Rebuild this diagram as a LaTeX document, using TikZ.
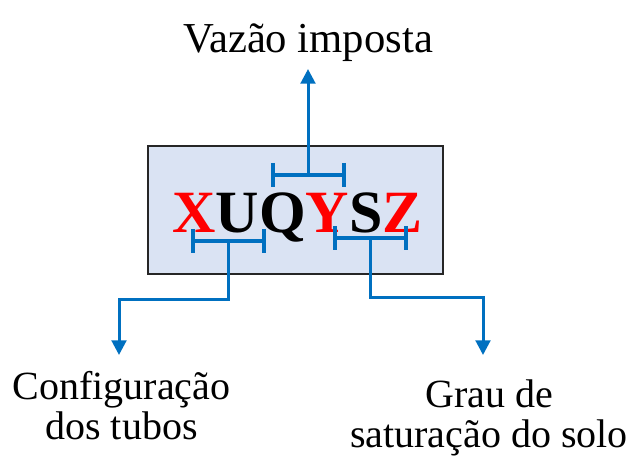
\documentclass[tikz,border=0pt]{standalone}
\usepackage{fontspec}
\setmainfont{Liberation Serif}
\usetikzlibrary{arrows.meta,positioning}
\definecolor{linkblue}{HTML}{0070C0}
\definecolor{boxfill}{HTML}{DAE3F3}
\begin{document}
\begin{tikzpicture}[x=0.75pt,y=-0.75pt,
    codebox/.style={draw=black!85,line width=1.1pt,fill=boxfill,minimum width=221.25pt,minimum height=96pt,inner sep=0pt},
    brace/.style={linkblue,line width=3pt},
    link/.style={linkblue,line width=2.25pt,-{Triangle[width=11pt,length=11pt]}},
    label/.style={inner sep=0pt,align=center,font=\fontsize{30}{30}\selectfont}]
    \useasboundingbox (0,0) rectangle (641,463);
    \node [codebox] (code) at (295.5,210) {};
    \node [anchor=base,inner sep=0pt,font=\fontsize{45}{45}\selectfont\bfseries] (word) at (297.5,232)
        {\textcolor{red}{X}UQ\textcolor{red}{Y}S\textcolor{red}{Z}};
    % the three braces under/over the letters
    \foreach \n/\x/\y in {top/308/175,left/228/241,right/370/238}{
        \draw [brace,shift={(\x,\y)}] (-35.5,-12) -- (-35.5,12) (-35.5,0) -- (35.5,0) (35.5,-12) -- (35.5,12);
        \coordinate (\n) at (\x,\y);
    }
    \node [anchor=base,label,font=\fontsize{32}{32}\selectfont] (flow) at (308,53) {Vazão imposta};
    \node [anchor=base,label] (pipes) at (121.5,439) {Configuração\\dos tubos};
    \node [anchor=base,label,font=\fontsize{30}{29.5}\selectfont] (soil) at (489,447) {Grau de\\saturação do solo};
    \draw [link] (top) -- ([yshift=-5pt]flow.south);
    \draw [link] (left) -- ++(0,58) -| ++(-109,56);
    \draw [link] (right) -- ++(0,59) -| ++(113,58);
\end{tikzpicture}
\end{document}
